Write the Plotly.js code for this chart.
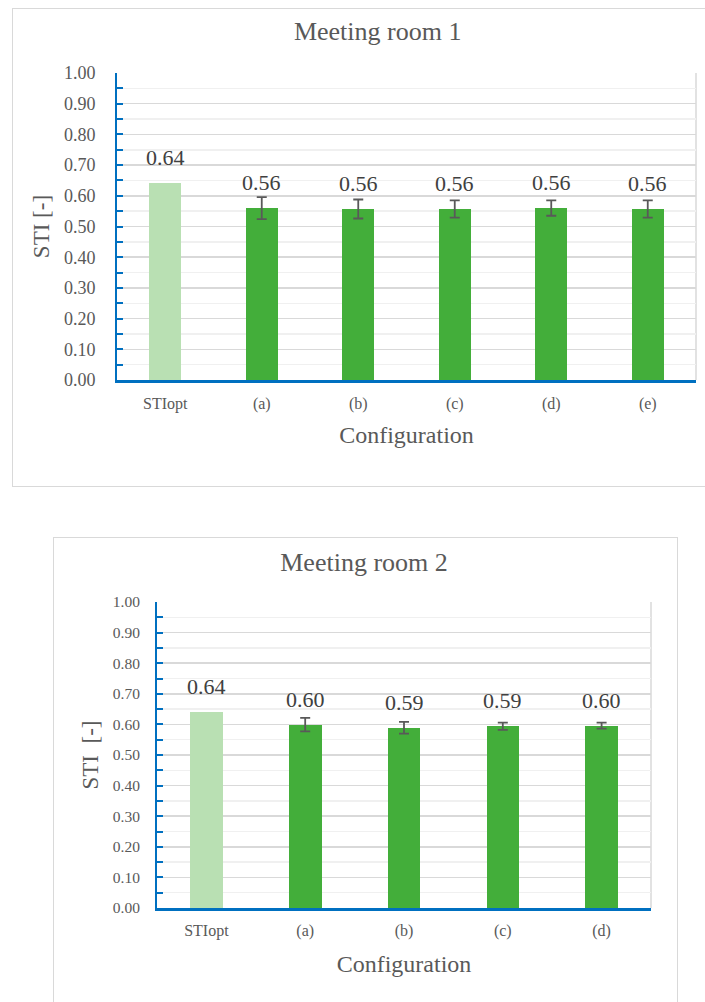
<!DOCTYPE html>
<html>
<head>
<meta charset="utf-8">
<script src="https://cdn.plot.ly/plotly-3.0.1.min.js"></script>
<style>
  html, body { margin: 0; padding: 0; background: #ffffff; overflow: hidden; width: 705px; height: 1002px; }
  .box { position: absolute; border: 1px solid #d9d9d9; box-sizing: border-box; background: #fff; }
  #c1 { left: 12px; top: 8px; width: 700px; height: 479px; }
  #c2 { left: 53px; top: 537px; width: 625px; height: 475px; }
</style>
</head>
<body>
<div id="c1" class="box"></div>
<div id="c2" class="box"></div>
<script>
// ---- data ----
const categories1 = ["STIopt", "(a)", "(b)", "(c)", "(d)", "(e)"];
const values1 = [0.642, 0.560, 0.557, 0.557, 0.560, 0.557];
const errors1 = [null, 0.036, 0.031, 0.028, 0.025, 0.028];

const categories2 = ["STIopt", "(a)", "(b)", "(c)", "(d)"];
const values2 = [0.641, 0.599, 0.589, 0.594, 0.596];
const errors2 = [null, 0.022, 0.019, 0.012, 0.010];

const title1 = "Meeting room 1";
const title2 = "Meeting room 2";
const xTitle = "Configuration";
const yTitle1 = "STI [-]";
const yTitle2 = "STI&nbsp;&nbsp;[-]";

// ---- style ----
const FONT = "Liberation Serif";
const TXT = "#595959";
const LIGHT = "#b9e0b3";
const DARK = "#43ae3a";
const BLUE = "#0070c0";

function makeChart(id, cats, vals, errs, title, yTitle, opts) {
  const colors = cats.map((c, i) => i === 0 ? LIGHT : DARK);
  const idx = errs.map((e, i) => i).filter(i => errs[i] !== null);
  const bars = {
    type: "bar",
    x: cats,
    y: vals,
    marker: { color: colors, line: { width: 0 } },
    width: 0.33,
    hoverinfo: "skip"
  };
  const errTrace = {
    type: "scatter", mode: "markers",
    x: idx.map(i => cats[i]),
    y: idx.map(i => vals[i]),
    marker: { size: 1, opacity: 0 },
    error_y: {
      type: "data", array: idx.map(i => errs[i]), visible: true,
      color: TXT, thickness: 1.8, width: 5
    },
    hoverinfo: "skip"
  };
  const annotations = cats.map((c, i) => ({
    x: c, y: vals[i], xref: "x", yref: "y",
    text: vals[i].toFixed(2),
    showarrow: false, yanchor: "bottom", yshift: 11,
    font: { family: FONT, size: opts.labelSize, color: "#404040" }
  }));
  const layout = {
    width: opts.w, height: opts.h,
    margin: { l: opts.l, r: opts.r, t: opts.t, b: opts.b, pad: 0 },
    paper_bgcolor: "rgba(0,0,0,0)",
    plot_bgcolor: "#ffffff",
    showlegend: false,
    bargap: 0,
    font: { family: FONT, color: TXT },
    title: {
      text: title, x: 0.5 + opts.titleDx, xanchor: "center",
      y: 1 - opts.titleY / opts.h, yref: "container", yanchor: "middle",
      font: { family: FONT, size: 26, color: TXT }
    },
    xaxis: {
      type: "category",
      showline: true, linecolor: BLUE, linewidth: 2.5,
      ticks: "", showgrid: false, zeroline: false,
      tickfont: { family: FONT, size: 16, color: TXT },
      ticklabelstandoff: opts.xStand,
      title: { text: xTitle, font: { family: FONT, size: 24, color: TXT }, standoff: opts.xTitleStand }
    },
    yaxis: {
      range: [0, 1], dtick: 0.1, tick0: 0, tickformat: ".2f",
      showline: true, linecolor: BLUE, linewidth: 2,
      ticks: "inside", ticklen: 6, tickwidth: 2, tickcolor: BLUE,
      showgrid: true, gridcolor: "#d9d9d9", gridwidth: 1.5,
      zeroline: false,
      minor: { dtick: 0.05, ticks: "inside", ticklen: 6, tickwidth: 2, tickcolor: BLUE, showgrid: true, gridcolor: "#f0f0f0", gridwidth: 1.5 },
      tickfont: { family: FONT, size: opts.tickSize, color: TXT },
      ticklabelstandoff: opts.yStand,
      title: { text: yTitle, font: { family: FONT, size: 23, color: TXT }, standoff: opts.yTitleStand }
    },
    shapes: [
      { type: "line", xref: "paper", yref: "paper", x0: 1, x1: 1, y0: 0, y1: 1, line: { color: "#d9d9d9", width: 1.5 }, layer: "below" }
    ],
    annotations: annotations
  };
  Plotly.newPlot(id, [bars, errTrace], layout, { staticPlot: true, displayModeBar: false });
}

makeChart("c1", categories1, values1, errors1, title1, yTitle1, {
  w: 700, h: 479, l: 104, r: 17, t: 64, b: 108,
  titleY: 22, titleDx: 0.021, labelSize: 22, tickSize: 18,
  xStand: 7, xTitleStand: 15, yStand: 16, yTitleStand: 8
});
makeChart("c2", categories2, values2, errors2, title2, yTitle2, {
  w: 625, h: 475, l: 103, r: 28, t: 64, b: 105,
  titleY: 24, titleDx: -0.004, labelSize: 22, tickSize: 15.5,
  xStand: 6, xTitleStand: 17, yStand: 12, yTitleStand: 8
});
</script>
</body>
</html>
